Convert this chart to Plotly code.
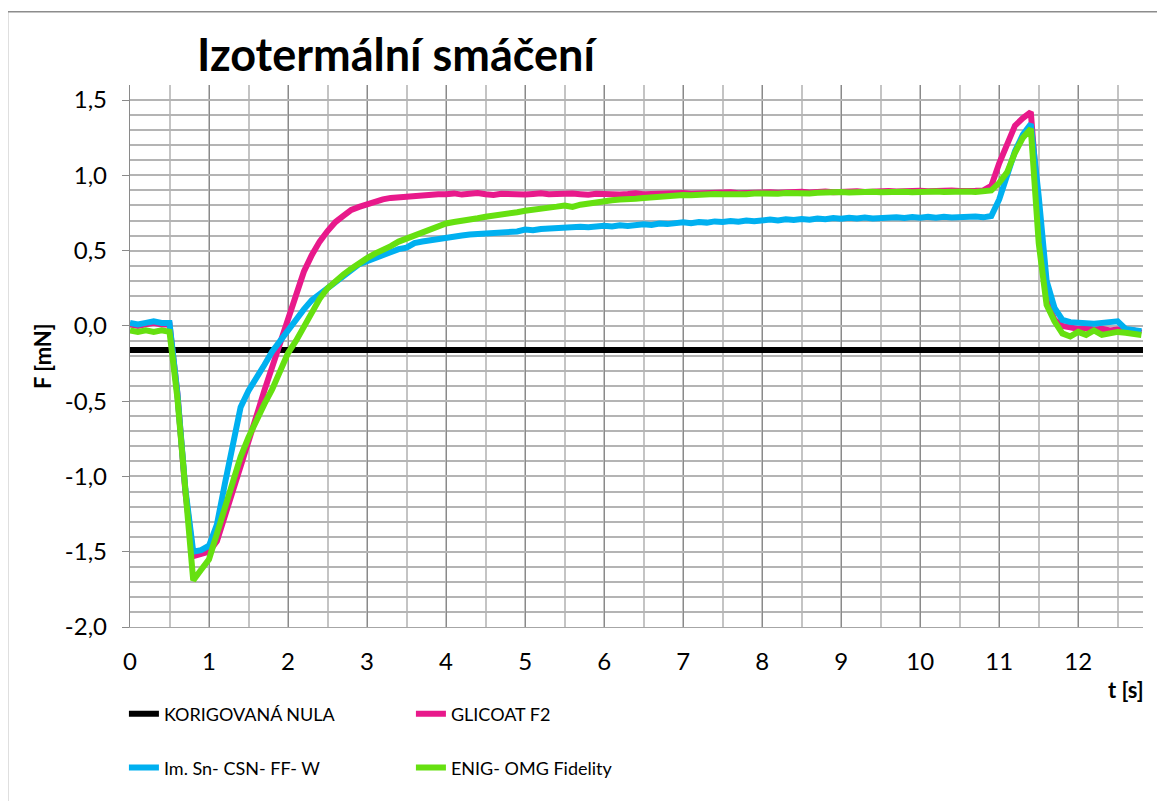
import plotly.graph_objects as go

# time axis (s), sampled every 0.1 s
T = [round(i * 0.1, 1) for i in range(129)]

KOR_T = [0.0, 12.82]
KOR_F = [-0.16, -0.16]

GLICOAT_F2 = [
    0.01, 0.00, 0.01, 0.02, 0.01, 0.01,
    -0.45, -1.10, -1.53, -1.52,
    -1.50, -1.43, -1.27, -1.10, -0.93, -0.76, -0.60, -0.43, -0.27, -0.10,
    0.06, 0.22, 0.36, 0.47, 0.56, 0.63, 0.69, 0.73, 0.77, 0.79,
    0.81, 0.83, 0.84, 0.85, 0.855, 0.86, 0.865, 0.87, 0.87, 0.875,
    0.875, 0.88, 0.872, 0.878, 0.883, 0.875, 0.87, 0.878, 0.874, 0.879,
    0.872, 0.876, 0.881, 0.874, 0.877, 0.873, 0.879, 0.875, 0.871, 0.877,
    0.874, 0.879, 0.873, 0.876, 0.881, 0.875, 0.878, 0.882, 0.876, 0.879,
    0.883, 0.877, 0.881, 0.885, 0.879, 0.883, 0.887, 0.881, 0.885, 0.889,
    0.883, 0.887, 0.884, 0.889, 0.886, 0.891, 0.886, 0.89, 0.893, 0.888,
    0.892, 0.889, 0.894, 0.89, 0.895, 0.891, 0.896, 0.892, 0.897, 0.893,
    0.898, 0.894, 0.899, 0.895, 0.9, 0.896, 0.901, 0.897, 0.90, 0.93,
    1.08, 1.20, 1.33, 1.38, 1.42, 0.75, 0.17, 0.04, 0.00, -0.01,
    -0.02, -0.015, -0.025, -0.02, -0.03, -0.025, -0.035, -0.03, -0.045,
]

IM_SN = [
    0.02, 0.01, 0.02, 0.03, 0.02, 0.02,
    -0.45, -1.08, -1.50, -1.49,
    -1.46, -1.32, -1.05, -0.80, -0.54, -0.43, -0.35, -0.26, -0.17, -0.10,
    -0.02, 0.05, 0.11, 0.17, 0.21, 0.26, 0.30, 0.34, 0.37, 0.41,
    0.43, 0.45, 0.475, 0.49, 0.51, 0.52, 0.55, 0.56, 0.57, 0.58,
    0.59, 0.595, 0.60, 0.607, 0.61, 0.62, 0.617, 0.625, 0.63, 0.627,
    0.64, 0.636, 0.644, 0.648, 0.645, 0.655, 0.65, 0.658, 0.655, 0.662,
    0.665, 0.66, 0.668, 0.664, 0.672, 0.675, 0.67, 0.68, 0.676, 0.685,
    0.688, 0.682, 0.69, 0.686, 0.694, 0.69, 0.697, 0.692, 0.70, 0.695,
    0.70, 0.706, 0.70, 0.708, 0.703, 0.71, 0.705, 0.713, 0.708, 0.716,
    0.712, 0.718, 0.713, 0.72, 0.714, 0.72, 0.716, 0.722, 0.717, 0.723,
    0.718, 0.724, 0.719, 0.725, 0.72, 0.725, 0.72, 0.726, 0.721, 0.73,
    0.84, 1.00, 1.16, 1.27, 1.34, 0.86, 0.30, 0.12, 0.04, 0.025,
    0.02, 0.025, 0.015, 0.02, 0.025, 0.03, -0.02, -0.03, -0.035,
]

ENIG = [
    -0.03, -0.04, -0.03, -0.04, -0.03, -0.04,
    -0.48, -1.12, -1.69, -1.62,
    -1.55, -1.38, -1.20, -1.03, -0.87, -0.74, -0.62, -0.52, -0.42, -0.30,
    -0.18, -0.10, 0.00, 0.09, 0.18, 0.25, 0.30, 0.34, 0.38, 0.42,
    0.45, 0.48, 0.50, 0.53, 0.56, 0.58, 0.61, 0.63, 0.65, 0.665,
    0.68, 0.69, 0.695, 0.705, 0.715, 0.725, 0.73, 0.74, 0.75, 0.755,
    0.765, 0.77, 0.778, 0.785, 0.792, 0.80, 0.79, 0.805, 0.815, 0.822,
    0.83, 0.835, 0.84, 0.838, 0.845, 0.85, 0.855, 0.86, 0.856, 0.865,
    0.87, 0.868, 0.873, 0.87, 0.876, 0.875, 0.872, 0.878, 0.875, 0.88,
    0.876, 0.881, 0.878, 0.883, 0.879, 0.884, 0.88, 0.885, 0.888, 0.884,
    0.889, 0.886, 0.89, 0.887, 0.891, 0.888, 0.892, 0.888, 0.891, 0.887,
    0.892, 0.889, 0.893, 0.889, 0.892, 0.888, 0.892, 0.889, 0.891, 0.90,
    0.95, 1.02, 1.15, 1.25, 1.31, 0.55, 0.14, 0.03, -0.05, -0.07,
    -0.04, -0.06, -0.03, -0.06, -0.05, -0.04, -0.045, -0.05, -0.06,
]

Y_TICKS = [-2.0, -1.5, -1.0, -0.5, 0.0, 0.5, 1.0, 1.5]
Y_TICK_TEXT = ["-2,0", "-1,5", "-1,0", "-0,5", "0,0", "0,5", "1,0", "1,5"]
X_TICKS = list(range(13))

FONT = "Lato"

fig = go.Figure()
fig.add_trace(go.Scatter(x=KOR_T, y=KOR_F, mode="lines", name="KORIGOVANÁ NULA",
                         line=dict(color="#000000", width=6), legend="legend"))
fig.add_trace(go.Scatter(x=T, y=GLICOAT_F2, mode="lines", name="GLICOAT F2",
                         line=dict(color="#E8198B", width=6), legend="legend"))
fig.add_trace(go.Scatter(x=T, y=IM_SN, mode="lines", name="Im. Sn- CSN- FF- W",
                         line=dict(color="#00B0F0", width=6), legend="legend2"))
fig.add_trace(go.Scatter(x=T, y=ENIG, mode="lines", name="ENIG- OMG Fidelity",
                         line=dict(color="#66E010", width=6), legend="legend2"))

leg_common = dict(orientation="h", xanchor="left", yanchor="middle",
                  entrywidth=242, bgcolor="rgba(0,0,0,0)",
                  font=dict(family=FONT, size=18, color="#000"),
                  itemclick=False, itemdoubleclick=False)

# the page body adds an 8px offset, so the figure is sized/margined to compensate
fig.update_layout(
    width=1157, height=793,
    margin=dict(l=122, r=22, t=77, b=174),
    paper_bgcolor="white", plot_bgcolor="white",
    separators=", ",
    showlegend=True,
    legend=dict(x=-0.006, y=-0.1605, **leg_common),
    legend2=dict(x=-0.006, y=-0.260, **leg_common),
    xaxis=dict(range=[0, 12.82], tickvals=X_TICKS, ticks="", showgrid=True,
               gridcolor="#8a8a8a", gridwidth=1.3,
               minor=dict(dtick=0.5, tick0=0, showgrid=True, gridcolor="#c4c4c4", gridwidth=1.5),
               showline=True, linecolor="#a6a6a6", linewidth=1.3,
               zeroline=False, ticklabelstandoff=13,
               tickfont=dict(family=FONT, size=24, color="#000")),
    yaxis=dict(range=[-2.0, 1.6], tickvals=Y_TICKS, ticktext=Y_TICK_TEXT,
               ticks="outside", ticklen=7, tickcolor="#8a8a8a", tickwidth=1.3,
               showgrid=True, gridcolor="#b4b4b4", gridwidth=1.5,
               minor=dict(dtick=0.1, tick0=0, showgrid=True, gridcolor="#b4b4b4", gridwidth=1.5),
               showline=True, linecolor="#8a8a8a", linewidth=1.3,
               zeroline=False, ticklabelstandoff=10,
               tickfont=dict(family=FONT, size=24, color="#000")),
    annotations=[
        dict(text="Izotermální smáčení", xref="paper", yref="paper",
             x=0.2636, y=1.058, xanchor="center", yanchor="middle", showarrow=False,
             font=dict(family=FONT, size=45, color="#000", weight="bold")),
        dict(text="F [mN]", xref="paper", yref="paper", x=-0.0869, y=0.5,
             xanchor="center", yanchor="middle", textangle=-90, showarrow=False,
             font=dict(family=FONT, size=22, color="#000", weight="bold")),
        dict(text="t [s]", xref="paper", yref="paper", x=0.9832, y=-0.1162,
             xanchor="center", yanchor="middle", showarrow=False,
             font=dict(family=FONT, size=22, color="#000", weight="bold")),
    ],
    shapes=[
        dict(type="rect", xref="paper", yref="paper", x0=-0.1209, x1=1.2,
             y0=-0.6, y1=1.1352, line=dict(color="#8c8c8c", width=1.5),
             fillcolor="rgba(0,0,0,0)", layer="below"),
    ],
)

fig.write_html("out.html")
